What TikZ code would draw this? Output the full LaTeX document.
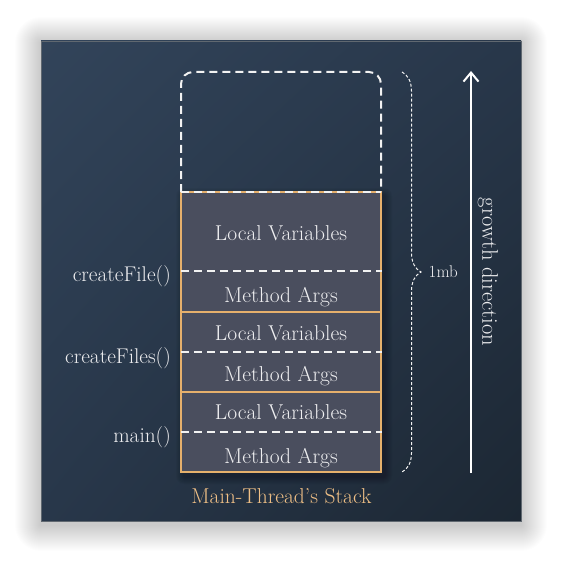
\documentclass[tikz,border=0pt]{standalone}
\usepackage{fontspec}
\usetikzlibrary{decorations.pathreplacing,arrows.meta,shadings}
\definecolor{bgA}{HTML}{32445A}
\definecolor{bgM}{HTML}{28374A}
\definecolor{bgB}{HTML}{1C2733}
\definecolor{boxfill}{HTML}{4A4E5E}
\definecolor{boxedge}{HTML}{E6B06C}
\definecolor{titlecol}{HTML}{F0C086}
\definecolor{txt}{HTML}{EEEEF0}
\tikzset{
  frame/.style={draw=boxedge, line width=2pt, fill=boxfill, minimum width=200pt, inner sep=0pt},
  divider/.style={draw=white!90!gray, line width=2pt, dash pattern=on 8pt off 5pt},
  celltext/.style={text=txt, font=\fontsize{21.5}{24}\selectfont, anchor=base, inner sep=0pt},
  fnlabel/.style={text=txt, font=\fontsize{21.3}{24}\selectfont, anchor=base east, inner sep=0pt},
  bracestyle/.style={draw=white!90!gray, line width=1pt, dash pattern=on 3pt off 2pt, decorate, decoration={brace, amplitude=19pt}},
}
\begin{document}
\begin{tikzpicture}[x=1pt,y=-1pt]
\useasboundingbox (0,0) rectangle (563,564);
% outer shadow
\foreach \i in {1,...,26} {
  \fill[black, opacity=0.0075, rounded corners=\i pt] (41-\i,43-\i) rectangle (521+\i,525+\i);
}
% background panel
\shade[upper left=bgA, upper right=bgM, lower left=bgM, lower right=bgB] (41,41) rectangle (521,521);
\draw[gray!60!bgA, line width=0.6pt] (41,41) rectangle (521,521);
% box shadow
\foreach \i in {1,...,8} {
  \fill[black, opacity=0.03, rounded corners=\i pt] (181-\i+3,192-\i+4) rectangle (381+\i+3,472+\i+4);
}
% frames
\node[frame, minimum height=120pt] (f1) at (281,252) {};
\node[frame, minimum height=80pt] (f2) at (281,352) {};
\node[frame, minimum height=80pt] (f3) at (281,432) {};
% reserved area (dashed)
\coordinate (rbl) at (181,192);
\coordinate (rtl) at (181,72);
\coordinate (rtr) at (381,72);
\coordinate (rbr) at (381,192);
\draw[divider, rounded corners=12pt] (rbl) -- (rtl) -- (rtr) -- (rbr);
\draw[divider] (rbl) -- (rbr);
% dividers
\coordinate (d1) at (181,271);
\coordinate (d2) at (181,352);
\coordinate (d3) at (181,432);
\draw[divider] (d1) -- (d1 -| f1.east);
\draw[divider] (d2) -- (d2 -| f2.east);
\draw[divider] (d3) -- (d3 -| f3.east);
% cell texts
\node[celltext] (lv1) at (281,240) {Local Variables};
\node[celltext] (ma1) at (281,302) {Method Args};
\node[celltext] (lv2) at (281,340) {Local Variables};
\node[celltext] (ma2) at (281,381) {Method Args};
\node[celltext] (lv3) at (281,419.5) {Local Variables};
\node[celltext] (ma3) at (281,463) {Method Args};
% function labels
\node[fnlabel] (l1) at (171,281) {createFile()};
\node[fnlabel] (l2) at (171,363) {createFiles()};
\node[fnlabel] (l3) at (171,442) {main()};
% title
\node[celltext, text=titlecol] (title) at (281.5,503) {Main-Thread's Stack};
% brace
\coordinate (bt) at (402,72);
\coordinate (bb) at (402,472);
\draw[bracestyle] (bt) -- (bb);
\node[text=txt, font=\fontsize{17}{20}\selectfont, anchor=west, inner sep=0pt] (mb) at (428.5,272) {1mb};
% growth arrow
\coordinate (ab) at (471,473);
\coordinate (at) at (471,71);
\draw[white, line width=2pt, -{Straight Barb[length=9pt, width=15pt, line width=2pt]}] (ab) -- (at);
\node[text=txt, font=\fontsize{22.5}{26}\selectfont, rotate=-90, inner sep=0pt] (gd) at (488,272) {growth direction};
\end{tikzpicture}
\end{document}
